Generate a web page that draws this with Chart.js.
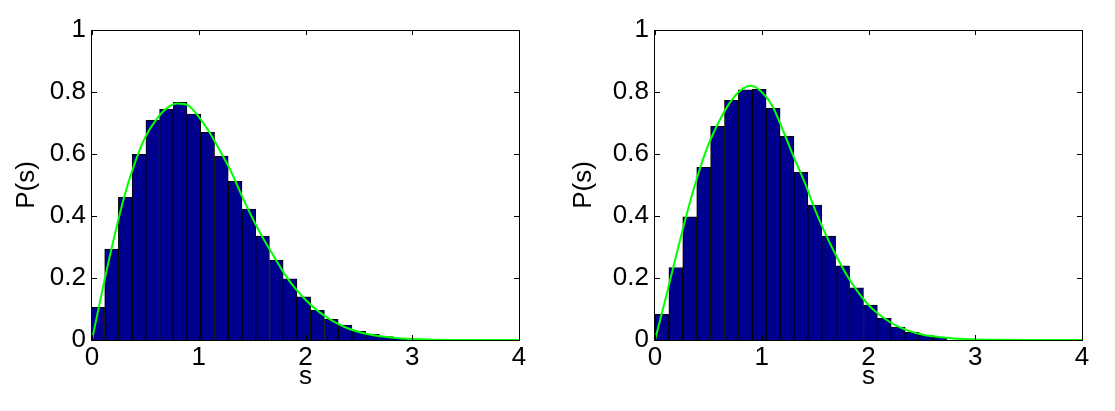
<!DOCTYPE html>
<html>
<head>
<meta charset="utf-8">
<script src="https://cdn.jsdelivr.net/npm/chart.js@4.4.1/dist/chart.umd.min.js"></script>
<style>
html,body{margin:0;padding:0;background:#fff;overflow:hidden}
#wrap{position:relative;width:1115px;height:411px}
canvas{position:absolute;top:0}
#cL{left:0}
#cR{left:557px}
</style>
</head>
<body>
<div id="wrap">
  <canvas id="cL" width="557" height="411"></canvas>
  <canvas id="cR" width="558" height="411"></canvas>
</div>
<script>
'use strict';
/* ── data ── */
const xTicks = [0, 1, 2, 3, 4];
const yTicks = [0, 0.2, 0.4, 0.6, 0.8, 1];

// left panel: histogram bin centres and heights
const binsL = [0.054,0.183,0.311,0.44,0.569,0.697,0.826,0.955,1.084,1.212,1.341,1.47,1.598,1.727,1.856,1.984,2.113,2.242,2.371,2.499,2.628,2.757,2.885];
const histL = [0.105,0.293,0.460,0.599,0.709,0.744,0.767,0.729,0.670,0.593,0.512,0.422,0.335,0.258,0.197,0.139,0.096,0.067,0.048,0.028,0.018,0.011,0.005];

// right panel
const binsR = [0.065,0.195,0.325,0.456,0.586,0.716,0.846,0.976,1.107,1.237,1.367,1.497,1.627,1.758,1.888,2.018,2.148,2.278,2.409,2.539,2.669];
const histR = [0.083,0.234,0.397,0.557,0.689,0.773,0.807,0.809,0.747,0.657,0.541,0.435,0.335,0.239,0.168,0.113,0.070,0.042,0.025,0.015,0.009];

// green curves, sampled at curveS
const curveS = [0,0.1,0.2,0.3,0.4,0.5,0.6,0.7,0.8,0.9,1.0,1.1,1.2,1.3,1.4,1.5,1.6,1.7,1.8,1.9,2.0,2.1,2.2,2.3,2.4,2.5,2.6,2.7,2.8,2.9,3.0,3.2,3.5,4.0];
const curveL = [0,0.165,0.32,0.46,0.57,0.655,0.71,0.748,0.763,0.757,0.72,0.67,0.61,0.545,0.468,0.395,0.33,0.272,0.215,0.168,0.13,0.098,0.073,0.053,0.037,0.026,0.018,0.012,0.008,0.005,0.003,0.001,0.0003,0];
const curveR = [0,0.135,0.275,0.41,0.53,0.63,0.705,0.765,0.805,0.82,0.80,0.755,0.675,0.59,0.51,0.42,0.34,0.27,0.207,0.155,0.113,0.082,0.058,0.04,0.027,0.018,0.012,0.008,0.005,0.003,0.002,0.001,0,0];

/* ── style ── */
const FONT = {family:'"Liberation Sans", Arial, sans-serif', size:26};
const TL = 5; // inward tick length

// MATLAB-ish box with inward ticks on all four sides
const boxTicks = {
  id:'boxTicks',
  afterDatasetsDraw(c){
    const {ctx, chartArea:a, scales:{x, y}} = c;
    ctx.save();
    ctx.strokeStyle = '#000'; ctx.lineWidth = 1;
    ctx.strokeRect(a.left - 0.5, a.top + 0.5, a.right - a.left + 1, a.bottom - a.top);
    ctx.beginPath();
    x.ticks.forEach(t => {
      const p = Math.round(x.getPixelForValue(t.value)) + 0.5;
      ctx.moveTo(p, a.bottom); ctx.lineTo(p, a.bottom - TL);
      ctx.moveTo(p, a.top); ctx.lineTo(p, a.top + TL);
    });
    y.ticks.forEach(t => {
      const p = Math.round(y.getPixelForValue(t.value)) + 0.5;
      ctx.moveTo(a.left, p); ctx.lineTo(a.left + TL, p);
      ctx.moveTo(a.right, p); ctx.lineTo(a.right - TL, p);
    });
    ctx.stroke();
    ctx.restore();
  }
};

function makePanel(id, bins, hist, curve, yWidth, padRight){
  const ctx = document.getElementById(id);
  return new Chart(ctx, {
    type:'bar',
    data:{datasets:[
      {type:'line', data:curveS.map((s,i)=>({x:s, y:curve[i]})), borderColor:'#00ff00', borderWidth:2,
       pointRadius:0, fill:false, cubicInterpolationMode:'monotone', order:1, clip:3},
      {type:'bar', data:bins.map((b,i)=>({x:b, y:hist[i]})), backgroundColor:'#00008f', borderColor:'#000',
       borderWidth:{top:1, left:1, right:1, bottom:0}, borderSkipped:false, barPercentage:1, categoryPercentage:1,
       grouped:false, order:2, clip:0}
    ]},
    options:{
      responsive:false, animation:false, devicePixelRatio:1,
      layout:{padding:{left:0, top:30, right:padRight, bottom:0}},
      plugins:{legend:{display:false}, tooltip:{enabled:false}},
      scales:{
        x:{type:'linear', min:0, max:4, offset:false,
           grid:{display:false, drawTicks:false}, border:{display:false},
           afterBuildTicks:s=>{ s.ticks = xTicks.map(v=>({value:v})); },
           ticks:{color:'#000', font:FONT, padding:2, autoSkip:false, maxRotation:0, callback:v=>String(v)},
           title:{display:true, text:'s', color:'#000', font:FONT, padding:{top:0, bottom:19}},
           afterFit:s=>{ s.height = 71; }},
        y:{type:'linear', min:0, max:1,
           grid:{display:false, drawTicks:false}, border:{display:false},
           afterBuildTicks:s=>{ s.ticks = yTicks.map(v=>({value:v})); },
           ticks:{color:'#000', font:FONT, padding:6, autoSkip:false, callback:v=>String(v)},
           title:{display:true, text:'P(s)', color:'#000', font:FONT, padding:{top:11, bottom:0}},
           afterFit:s=>{ s.width = yWidth; }}
      }
    },
    plugins:[boxTicks]
  });
}

makePanel('cL', binsL, histL, curveL, 92, 38);
makePanel('cR', binsR, histR, curveR, 98, 33);
</script>
</body>
</html>
